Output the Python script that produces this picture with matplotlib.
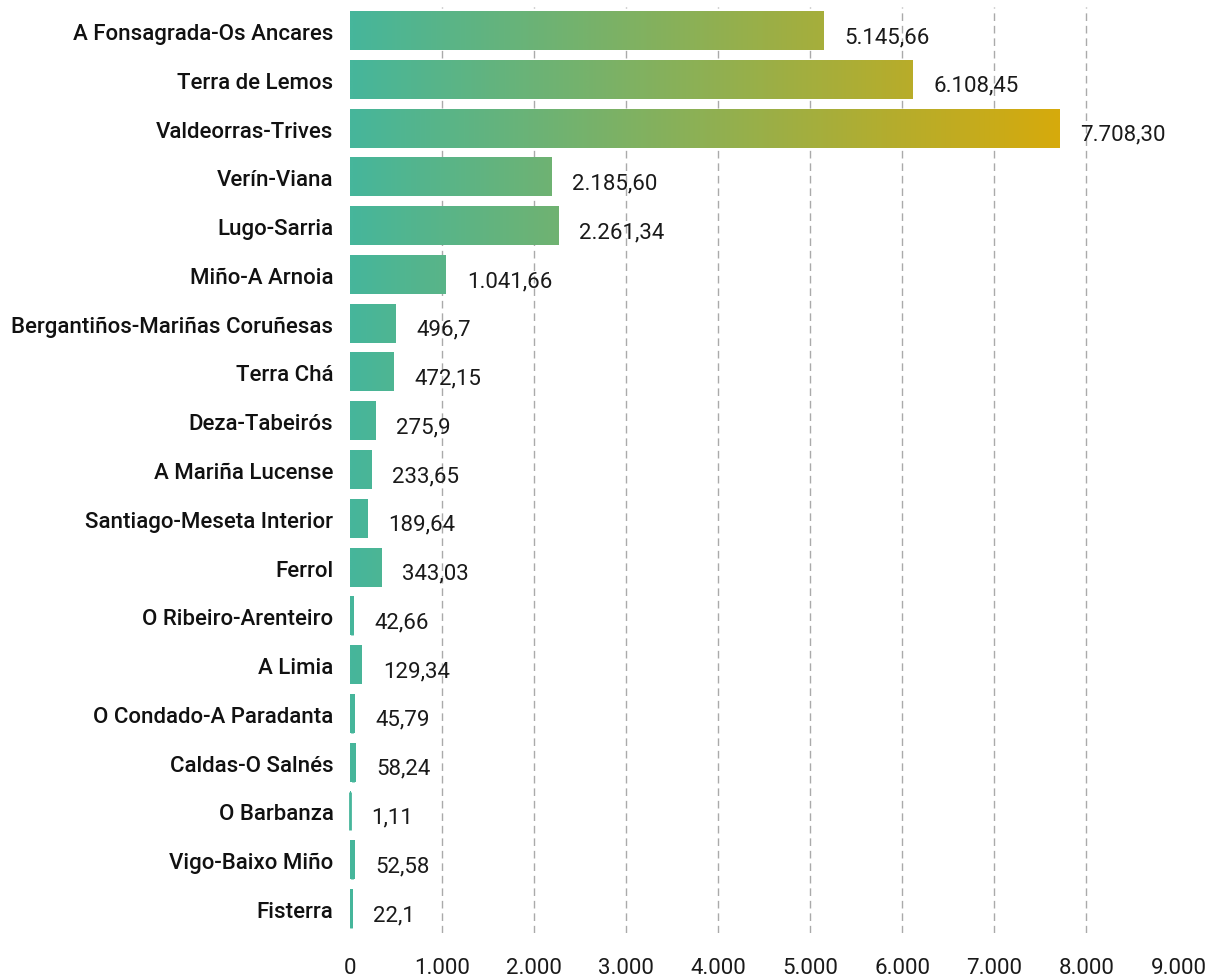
import numpy as np
import matplotlib
matplotlib.use("Agg")
import matplotlib.pyplot as plt
from matplotlib.colors import LinearSegmentedColormap

categories = [
    "A Fonsagrada-Os Ancares", "Terra de Lemos", "Valdeorras-Trives", "Verín-Viana",
    "Lugo-Sarria", "Miño-A Arnoia", "Bergantiños-Mariñas Coruñesas", "Terra Chá",
    "Deza-Tabeirós", "A Mariña Lucense", "Santiago-Meseta Interior", "Ferrol",
    "O Ribeiro-Arenteiro", "A Limia", "O Condado-A Paradanta", "Caldas-O Salnés",
    "O Barbanza", "Vigo-Baixo Miño", "Fisterra",
]
values = [5145.66, 6108.45, 7708.30, 2185.60, 2261.34, 1041.66, 496.7, 472.15,
          275.9, 233.65, 189.64, 343.03, 42.66, 129.34, 45.79, 58.24, 1.11, 52.58, 22.1]
value_labels = ["5.145,66", "6.108,45", "7.708,30", "2.185,60", "2.261,34", "1.041,66",
                "496,7", "472,15", "275,9", "233,65", "189,64", "343,03", "42,66",
                "129,34", "45,79", "58,24", "1,11", "52,58", "22,1"]
xticks = [0, 1000, 2000, 3000, 4000, 5000, 6000, 7000, 8000, 9000]
xtick_labels = ["0", "1.000", "2.000", "3.000", "4.000", "5.000", "6.000", "7.000", "8.000", "9.000"]

plt.rcParams['font.family'] = ['Roboto', 'DejaVu Sans']

cmap = LinearSegmentedColormap.from_list("tealgold", ["#46b69b", "#d6aa0c"])
vmax = max(values)

fig = plt.figure(figsize=(12.05, 9.79), dpi=100)
ax = fig.add_axes([0.2905, 0.0456, 0.6875, 0.9466])

bar_h = 0.78
for i, v in enumerate(values):
    grad = np.linspace(0, v / vmax, 256).reshape(1, -1)
    ax.imshow(grad, cmap=cmap, vmin=0, vmax=1, aspect='auto',
              extent=[0, v, i + bar_h / 2, i - bar_h / 2], zorder=2,
              interpolation='bilinear')
    if v < 100:
        # tiny bars: keep a minimum visible width
        ax.plot([v / 2, v / 2], [i - bar_h / 2, i + bar_h / 2], color=cmap(0.0), lw=2,
                solid_capstyle='butt', zorder=2, clip_on=False)
    ax.annotate(value_labels[i], xy=(v, i), xytext=(15, -4), textcoords='offset points',
                ha='left', va='center', fontsize=16, color='#1a1a1a')

for t in xticks[1:-1]:
    ax.axvline(t, color='#aaaaaa', lw=1, ls=(0, (5.5, 3.5)), zorder=1)

ax.set_xlim(0, 9000)
ax.set_ylim(len(categories) - 0.5, -0.5)
ax.set_xticks(xticks)
ax.set_xticklabels(xtick_labels, fontsize=16, color='#1a1a1a')
ax.set_yticks(range(len(categories)))
ax.set_yticklabels(categories, fontsize=16, fontweight='medium', color='#111111')
ax.tick_params(axis='both', length=0)
ax.tick_params(axis='x', pad=17)
ax.tick_params(axis='y', pad=12)
for s in ax.spines.values():
    s.set_visible(False)

fig.savefig("out.png", dpi=100)
